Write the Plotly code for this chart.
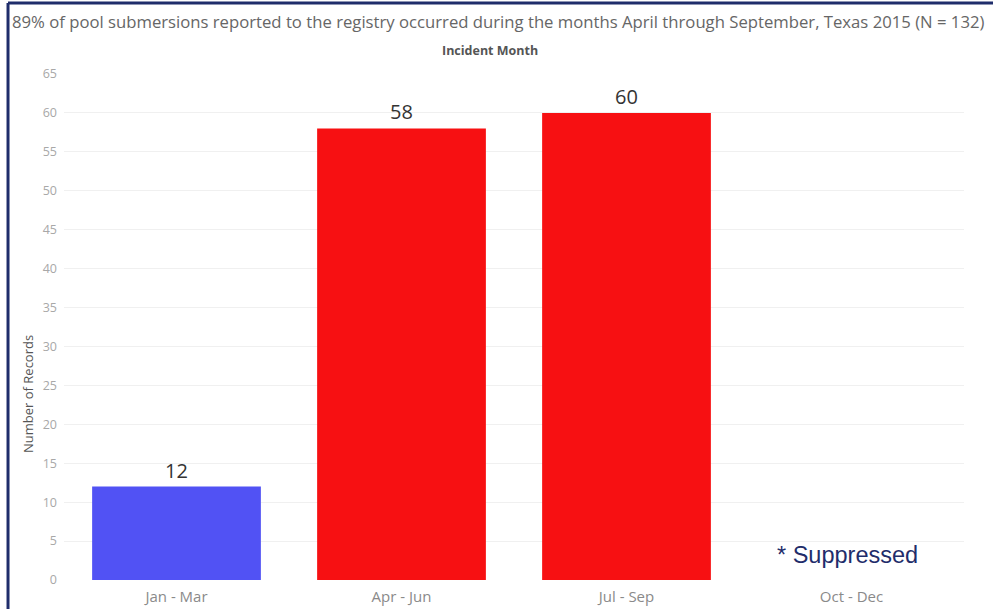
import plotly.graph_objects as go

categories = ["Jan - Mar", "Apr - Jun", "Jul - Sep", "Oct - Dec"]
records = [12, 58, 60, None]
bar_colors = ["#5152F4", "#F71012", "#F71012", "#F71012"]
label_texts = ["12", "58", "60", ""]
y_ticks = list(range(0, 70, 5))

title_text = "89% of pool submersions reported to the registry occurred during the months April through September, Texas 2015 (N = 132)"

fig = go.Figure()
fig.add_trace(go.Bar(
    x=categories, y=records,
    marker=dict(color=bar_colors, line=dict(width=0)),
    text=label_texts, textposition="outside",
    textfont=dict(size=20, color="#333333", family="Open Sans"),
    cliponaxis=False,
    hoverinfo="x+y",
))

fig.update_layout(
    width=993, height=609,
    margin=dict(l=64, r=29, t=74, b=29, autoexpand=False),
    paper_bgcolor="white", plot_bgcolor="white",
    bargap=0.25,
    showlegend=False,
    font=dict(family="Open Sans", color="#888888"),
    xaxis=dict(
        showgrid=False, showline=False, zeroline=False, automargin=False,
        tickfont=dict(size=15, color="#8a8a8a"),
        ticks="", ticklen=0, ticklabelstandoff=6,
    ),
    yaxis=dict(
        range=[0, 65], tickvals=y_ticks, automargin=False,
        showgrid=True, gridcolor="#f0f0f0", gridwidth=1,
        zeroline=False, showline=False,
        tickfont=dict(size=12.5, color="#a8a8a8"),
        ticklabelstandoff=6,
    ),
    annotations=[
        dict(text=title_text, xref="paper", yref="paper", x=-0.0595, y=1.1028,
             xanchor="left", yanchor="middle", showarrow=False,
             font=dict(size=16.7, color="#666666", family="Open Sans")),
        dict(text="<b>Incident Month</b>", xref="paper", yref="paper", x=0.4733, y=1.0474,
             xanchor="center", yanchor="middle", showarrow=False,
             font=dict(size=12.5, color="#555555", family="Open Sans")),
        dict(text="Number of Records", xref="paper", yref="paper", x=-0.04, y=0.3676,
             xanchor="center", yanchor="middle", showarrow=False, textangle=-90,
             font=dict(size=13, color="#555555", family="Open Sans")),
        dict(text="* Suppressed", xref="paper", yref="paper", x=0.79, y=0.0494,
             xanchor="left", yanchor="middle", showarrow=False,
             font=dict(size=23.5, color="#1F2D6B", family="Liberation Sans, Arial")),
    ],
    shapes=[
        dict(type="line", xref="paper", yref="paper", x0=-0.0622, x1=1.04, y0=1.1403, y1=1.1403,
             line=dict(color="#1F2D6B", width=3)),
        dict(type="line", xref="paper", yref="paper", x0=-0.0622, x1=-0.0622, y0=-0.06, y1=1.1403,
             line=dict(color="#1F2D6B", width=3)),
    ],
)

fig.write_html("out.html", config={"displayModeBar": False},
               post_script="document.body.style.margin='0px';")
